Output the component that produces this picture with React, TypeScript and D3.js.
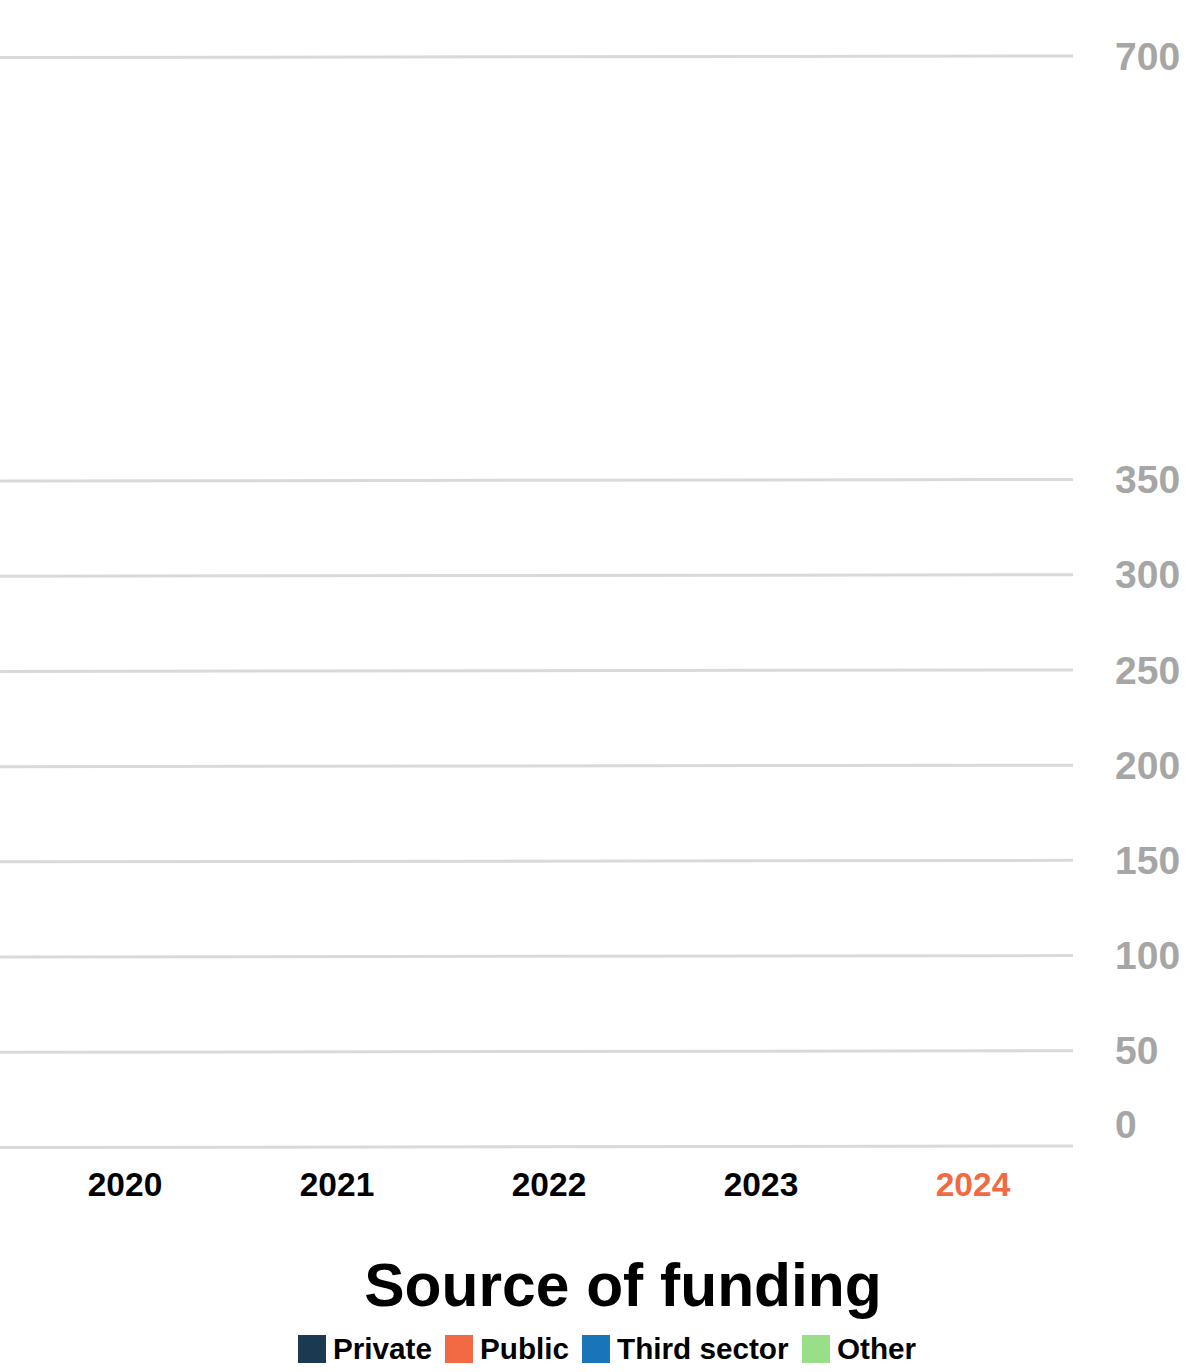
import React from "react";
import * as d3 from "d3";

const years = ["2020", "2021", "2022", "2023", "2024"];
const highlightYear = "2024";
const seriesNames = ["Private", "Public", "Third sector", "Other"];
const seriesColors = ["#1b3a52", "#f26a43", "#1a75b8", "#98df8a"];
// No bars are visible in the picture: every value reads as 0
const privateVals = [0, 0, 0, 0, 0];
const publicVals = [0, 0, 0, 0, 0];
const thirdVals = [0, 0, 0, 0, 0];
const otherVals = [0, 0, 0, 0, 0];
const yTicks = [0, 50, 100, 150, 200, 250, 300, 350, 700];
const title = "Source of funding";

const W = 1201;
const H = 1372;
const FONT = "'Liberation Sans', Arial, Helvetica, sans-serif";
const legendX = [298, 445, 582, 802];

export default function App() {
  const x = d3
    .scaleBand()
    .domain(years)
    .range([19, 1079])
    .paddingInner(0.3)
    .paddingOuter(0.15);
  const y = d3.scaleLinear().domain([0, 350, 700]).range([1146, 479.5, 56]);
  const gridRight = 1073;
  const seriesVals = [privateVals, publicVals, thirdVals, otherVals];
  const table = years.map((yr, i) => {
    const o: any = { year: yr };
    seriesNames.forEach((s, k) => (o[s] = seriesVals[k][i]));
    return o;
  });
  const stacked = d3.stack().keys(seriesNames)(table);

  return (
    <svg
      width={W}
      height={H}
      style={{ position: "absolute", left: 0, top: 0, background: "#fff" }}
      fontFamily={FONT}
    >
      <rect width={W} height={H} fill="#fff" />
      {yTicks.map((t) => (
        <g key={t}>
          <line
            x1={0}
            x2={gridRight}
            y1={y(t) + 1.5}
            y2={y(t)}
            stroke="#d9d9d9"
            strokeWidth={3}
          />
          <text
            x={1115}
            y={y(t) + (t === 0 ? -22 : 0)}
            dy="0.35em"
            fontSize={39}
            fontWeight="bold"
            fill="#a6a6a6"
          >
            {t}
          </text>
        </g>
      ))}
      {stacked.map((layer, k) =>
        layer.map((d, i) => (
          <rect
            key={seriesNames[k] + i}
            x={x(years[i])}
            width={x.bandwidth()}
            y={y(d[1])}
            height={Math.max(0, y(d[0]) - y(d[1]))}
            fill={seriesColors[k]}
          />
        ))
      )}
      {years.map((yr) => (
        <text
          key={yr}
          x={(x(yr) as number) + x.bandwidth() / 2}
          y={1196}
          textAnchor="middle"
          fontSize={33.5}
          fontWeight="bold"
          fill={yr === highlightYear ? "#f26a43" : "#000"}
        >
          {yr}
        </text>
      ))}
      <text x={623} y={1306} textAnchor="middle" fontSize={60.5} fontWeight="bold" fill="#000">
        {title}
      </text>
      {seriesNames.map((s, k) => (
        <g key={s}>
          <rect x={legendX[k]} y={1335} width={28} height={28} fill={seriesColors[k]} />
          <text x={legendX[k] + 35} y={1359} fontSize={29.7} fontWeight="bold" fill="#000">
            {s}
          </text>
        </g>
      ))}
    </svg>
  );
}
